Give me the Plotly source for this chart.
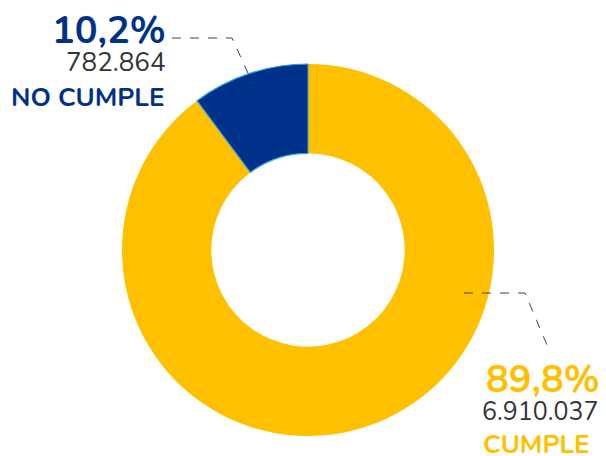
import plotly.graph_objects as go

labels = ["CUMPLE", "NO CUMPLE"]
values = [6910037, 782864]
pct_text = ["89,8%", "10,2%"]
value_text = ["6.910.037", "782.864"]
colors = ["#FFC000", "#00318A"]

OFF = 8  # page body margin
W, H = 598, 448
cx, cy, R = 308, 250, 186

def px(x):
    return (x - OFF) / W

def py(y):
    return 1 - (y - OFF) / H

fig = go.Figure(go.Pie(
    labels=labels, values=values, hole=0.52, sort=False,
    direction="clockwise", rotation=0,
    marker=dict(colors=colors, line=dict(color=["rgba(0,0,0,0)", "#2AA5E3"], width=[0, 1.2])),
    textinfo="none", hoverinfo="label+value+percent", showlegend=False,
    domain=dict(x=[px(cx - R), px(cx + R)], y=[py(cy + R), py(cy - R)]),
))

font = "Nunito, Lato, 'Open Sans', sans-serif"
ann = [
    dict(x=px(168), y=py(30), text="<b>" + pct_text[1] + "</b>", xanchor="right", yanchor="middle",
         font=dict(size=38, color=colors[1], family=font)),
    dict(x=px(168), y=py(63), text=value_text[1], xanchor="right", yanchor="middle",
         font=dict(size=26, color="#333333", family=font)),
    dict(x=px(166), y=py(97), text="<b>" + labels[1] + "</b>", xanchor="right", yanchor="middle",
         font=dict(size=26, color=colors[1], family=font)),
    dict(x=px(484), y=py(379), text="<b>" + pct_text[0] + "</b>", xanchor="left", yanchor="middle",
         font=dict(size=38, color=colors[0], family=font)),
    dict(x=px(480), y=py(412), text=value_text[0], xanchor="left", yanchor="middle",
         font=dict(size=25, color="#333333", family=font)),
    dict(x=px(481), y=py(444), text="<b>" + labels[0] + "</b>", xanchor="left", yanchor="middle",
         font=dict(size=26, color=colors[0], family=font)),
]
for a in ann:
    a.update(xref="paper", yref="paper", showarrow=False)

line_style = dict(color="#444444", width=1, dash="dash")
shapes = [
    dict(type="path", xref="paper", yref="paper",
         path=f"M {px(172)} {py(38)} L {px(232)} {py(38)} L {px(253)} {py(84)}", line=line_style),
    dict(type="path", xref="paper", yref="paper",
         path=f"M {px(464)} {py(293)} L {px(525)} {py(293)} L {px(547)} {py(345)}", line=line_style),
]

fig.update_layout(width=W, height=H, margin=dict(l=0, r=0, t=0, b=0),
                  paper_bgcolor="white", plot_bgcolor="white",
                  annotations=ann, shapes=shapes)
fig.write_html("out.html")
